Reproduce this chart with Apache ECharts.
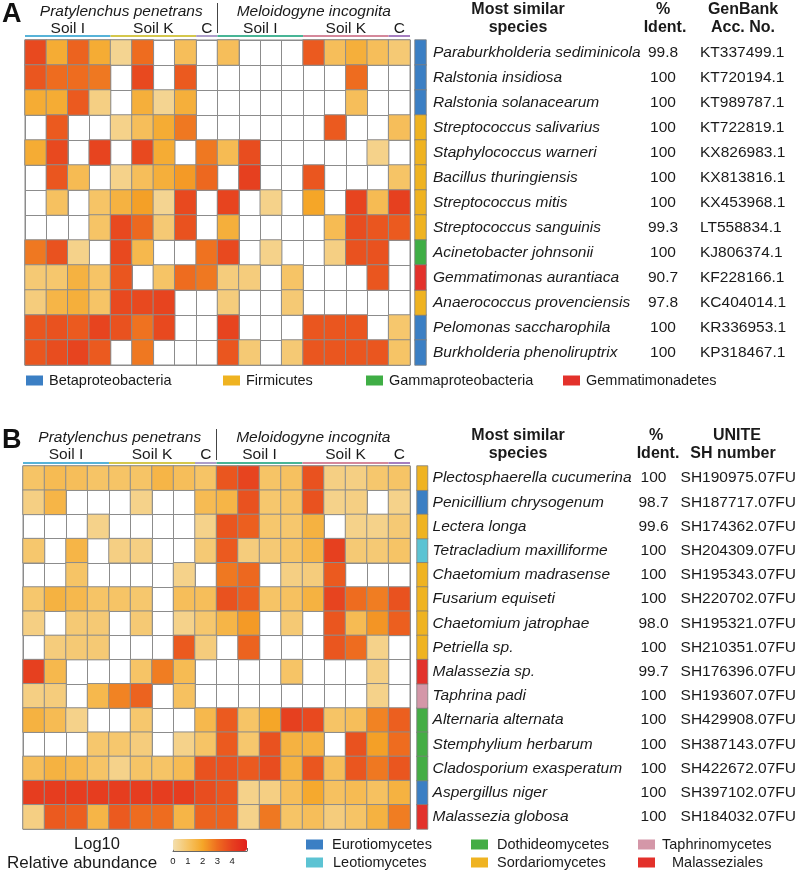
<!DOCTYPE html>
<html><head><meta charset="utf-8">
<script src="https://cdn.jsdelivr.net/npm/echarts@6/dist/echarts.min.js"></script>
<style>html,body{margin:0;padding:0;background:#fff}#c{width:799px;height:873px}</style>
</head><body><div id="c"></div>
<script>
// ---------------- DATA ----------------
const columns = ['Pp-SoilI-1','Pp-SoilI-2','Pp-SoilI-3','Pp-SoilI-4','Pp-SoilK-1','Pp-SoilK-2','Pp-SoilK-3','Pp-SoilK-4','Pp-C',
                 'Mi-SoilI-1','Mi-SoilI-2','Mi-SoilI-3','Mi-SoilI-4','Mi-SoilK-1','Mi-SoilK-2','Mi-SoilK-3','Mi-SoilK-4','Mi-C'];
const groupLabels = ['Soil I','Soil K','C','Soil I','Soil K','C'];
const groupSizes = [4,4,1,4,4,1];
const nematodes = ['Pratylenchus penetrans','Meloidogyne incognita'];

const speciesA = ['Paraburkholderia sediminicola','Ralstonia insidiosa','Ralstonia solanacearum','Streptococcus salivarius',
  'Staphylococcus warneri','Bacillus thuringiensis','Streptococcus mitis','Streptococcus sanguinis','Acinetobacter johnsonii',
  'Gemmatimonas aurantiaca','Anaerococcus provenciensis','Pelomonas saccharophila','Burkholderia phenoliruptrix'];
const identA = ['99.8','100','100','100','100','100','100','99.3','100','90.7','97.8','100','100'];
const accA = ['KT337499.1','KT720194.1','KT989787.1','KT722819.1','KX826983.1','KX813816.1','KX453968.1','LT558834.1',
  'KJ806374.1','KF228166.1','KC404014.1','KR336953.1','KP318467.1'];
const classA = ['Betaproteobacteria','Betaproteobacteria','Betaproteobacteria','Firmicutes','Firmicutes','Firmicutes','Firmicutes',
  'Firmicutes','Gammaproteobacteria','Gemmatimonadetes','Firmicutes','Betaproteobacteria','Betaproteobacteria'];
const abundanceA = [
  [3.8,1.8,3.2,1.8,0.4,3.0,null,1.2,null,1.2,null,null,null,3.4,1.2,1.7,1.2,0.8],
  [3.5,3.0,3.0,2.8,null,3.8,null,3.4,null,null,null,null,null,null,null,3.0,null,null],
  [1.8,1.8,3.4,0.6,null,1.7,0.4,1.7,null,null,null,null,null,null,null,1.2,null,null],
  [null,3.4,null,null,0.5,1.2,1.8,2.8,null,null,null,null,null,null,3.4,null,null,1.2],
  [1.8,3.8,null,3.9,null,3.8,1.8,null,2.8,1.3,3.7,null,null,null,null,null,0.5,null],
  [null,3.5,1.3,null,0.5,1.2,1.7,2.2,3.1,null,4.0,null,null,3.5,null,null,null,1.0],
  [null,1.1,null,1.0,1.6,2.1,0.4,3.8,null,3.9,null,0.5,null,2.0,null,3.9,1.3,4.0],
  [null,null,null,1.0,3.8,3.1,0.8,3.6,null,1.7,null,null,null,null,1.3,3.7,3.5,3.4],
  [2.8,3.6,0.5,null,3.8,1.4,null,null,2.9,3.8,null,0.5,null,null,0.6,3.6,3.6,null],
  [0.8,0.9,1.6,1.0,3.5,null,1.0,3.0,2.8,0.7,0.7,null,1.0,null,null,null,3.5,null],
  [0.7,1.5,1.7,1.0,3.8,3.8,3.9,null,null,0.7,null,null,0.8,null,null,null,null,null],
  [3.5,3.6,3.4,3.9,3.6,2.9,3.8,null,null,3.9,null,null,null,3.5,3.5,3.5,null,0.9],
  [3.5,3.7,3.9,3.4,null,2.8,null,null,null,3.5,0.8,null,0.8,3.5,3.5,3.5,3.5,1.0]
];

const speciesB = ['Plectosphaerella cucumerina','Penicillium chrysogenum','Lectera longa','Tetracladium maxilliforme',
  'Chaetomium madrasense','Fusarium equiseti','Chaetomium jatrophae','Petriella sp.','Malassezia sp.','Taphrina padi',
  'Alternaria alternata','Stemphylium herbarum','Cladosporium exasperatum','Aspergillus niger','Malassezia globosa'];
const identB = ['100','98.7','99.6','100','100','100','98.0','100','99.7','100','100','100','100','100','100'];
const shB = ['SH190975.07FU','SH187717.07FU','SH174362.07FU','SH204309.07FU','SH195343.07FU','SH220702.07FU','SH195321.07FU',
  'SH210351.07FU','SH176396.07FU','SH193607.07FU','SH429908.07FU','SH387143.07FU','SH422672.07FU','SH397102.07FU','SH184032.07FU'];
const classB = ['Sordariomycetes','Eurotiomycetes','Sordariomycetes','Leotiomycetes','Sordariomycetes','Sordariomycetes',
  'Sordariomycetes','Sordariomycetes','Malasseziales','Taphrinomycetes','Dothideomycetes','Dothideomycetes','Dothideomycetes',
  'Eurotiomycetes','Malasseziales'];
const abundanceB = [
  [1.0,1.3,1.2,1.0,1.0,1.0,1.5,1.2,1.0,3.5,3.9,1.0,1.1,3.6,0.6,0.6,0.9,1.0],
  [0.6,1.5,null,null,null,0.5,null,null,1.3,1.5,3.6,0.9,1.0,3.6,0.5,0.6,null,0.5],
  [null,null,null,0.5,null,null,null,null,0.5,3.5,3.3,0.9,0.9,1.6,null,0.5,0.5,0.8],
  [0.9,null,1.5,null,0.6,0.6,null,null,0.8,3.4,0.7,0.8,1.0,1.5,4.0,0.8,0.8,1.0],
  [null,null,1.0,null,null,null,null,0.5,null,2.8,3.1,null,0.6,0.7,3.4,null,null,null],
  [0.9,1.6,1.4,1.0,1.0,0.9,null,1.2,1.2,3.6,3.3,1.0,1.1,1.6,3.9,3.0,2.7,3.6],
  [0.6,null,0.8,0.8,null,0.8,null,0.5,0.9,1.5,2.2,null,0.8,null,3.5,1.3,2.3,3.3],
  [null,0.7,0.8,0.8,null,null,null,3.4,0.7,null,3.2,null,null,null,3.5,3.0,0.5,null],
  [4.0,1.4,null,null,null,1.0,2.7,1.3,null,null,null,null,1.0,null,null,null,0.6,null],
  [0.6,0.7,null,1.4,2.6,3.2,null,1.1,null,null,null,null,null,null,null,null,0.5,null],
  [1.6,1.3,0.5,null,null,0.9,null,null,1.4,3.4,1.0,2.0,4.0,3.8,1.0,1.2,2.6,3.3],
  [null,null,null,0.9,0.9,0.7,null,0.5,1.0,3.4,0.9,3.6,1.6,1.6,null,3.6,2.1,3.0],
  [1.2,1.6,1.4,1.0,0.5,1.0,1.0,1.3,3.6,3.6,3.4,3.7,1.6,3.5,1.2,3.5,2.8,3.5],
  [4.1,4.1,4.1,4.1,4.1,4.1,4.1,4.1,3.7,3.5,0.5,0.6,1.2,1.9,1.1,1.3,1.1,1.6],
  [0.6,3.4,3.3,1.5,3.4,3.0,3.0,1.5,3.2,3.2,0.5,2.8,1.0,1.2,0.7,1.0,1.6,2.7]
];
const colorbarTicks = [0,1,2,3,4];

// ---------------- STYLE ----------------
const FONT = '"Liberation Sans", Arial, Helvetica, sans-serif';
const TXT = '#1a1a1a';
const GRID_LINE = '#8c8c8c';
const heatColors = ['#f3dfae','#f6c466','#f5a628','#ee6c1f','#e6401f','#e1201d'];
const classColorsA = {Betaproteobacteria:'#3b7fc4', Firmicutes:'#efb321', Gammaproteobacteria:'#3fae45', Gemmatimonadetes:'#e3312b'};
const classColorsB = {Eurotiomycetes:'#3b7fc4', Leotiomycetes:'#5cc3d3', Dothideomycetes:'#44ad45', Sordariomycetes:'#efb321',
  Taphrinomycetes:'#d497a8', Malasseziales:'#e3312b'};
const groupColors = ['#57b3d8','#d4c74c','#ad9fca','#48b596','#d5889b','#a67ec0'];

const LA = {left:25, top:40, width:385, height:325, stripLeft:415, stripW:11, identX:663, accX:700, spX:433,
            line:36, row1:12, row2:29, hdr1:10, hdr2:28, letterTop:1};
const LB = {left:23, top:466, width:387, height:363, stripLeft:417, stripW:13, identX:656, accX:683, spX:435,
            line:463, row1:438, row2:455, hdr1:436, hdr2:454, letterTop:427};

function heatData(mat){
  const out=[];
  mat.forEach((row,r)=>row.forEach((v,c)=>{ if(v!==null) out.push([c,r,v]); }));
  return out;
}

const grids=[], xAxes=[], yAxes=[], series=[], graphics=[], legends=[];

function addPanel(L, species, ident, acc, classes, mat, classColors, accHdr1, accHdr2, letter){
  const g = grids.length;
  grids.push({left:L.left, top:L.top, width:L.width, height:L.height, show:true, borderColor:GRID_LINE, borderWidth:1, backgroundColor:'#fff'});
  grids.push({left:L.stripLeft, top:L.top, width:L.stripW, height:L.height});
  const xi = xAxes.length;
  xAxes.push({type:'category', gridIndex:g, data:columns, axisLine:{show:false}, axisTick:{show:false, interval:0}, axisLabel:{show:false, interval:0},
              splitLine:{show:true, interval:0, lineStyle:{color:GRID_LINE, width:1}}});
  xAxes.push({type:'category', gridIndex:g+1, data:['class'], show:false});
  const yi = yAxes.length;
  yAxes.push({type:'category', gridIndex:g, data:species, inverse:true, axisLine:{show:false}, axisTick:{show:false, interval:0},
              axisLabel:{show:false, interval:0}, splitLine:{show:true, interval:0, lineStyle:{color:GRID_LINE, width:1}}});
  const lab = {fontFamily:FONT, fontSize:15.5, color:TXT, interval:0};
  yAxes.push({type:'category', gridIndex:g+1, data:species, inverse:true, position:'right', axisLine:{show:false}, axisTick:{show:false},
              axisLabel:Object.assign({}, lab, {fontStyle:'italic', align:'left', margin:L.spX-(L.stripLeft+L.stripW)})});
  yAxes.push({type:'category', gridIndex:g+1, data:ident, inverse:true, position:'right', offset:L.identX-(L.stripLeft+L.stripW),
              axisLine:{show:false}, axisTick:{show:false}, axisLabel:Object.assign({}, lab, {align:'center', margin:0})});
  yAxes.push({type:'category', gridIndex:g+1, data:acc, inverse:true, position:'right', offset:L.accX-(L.stripLeft+L.stripW),
              axisLine:{show:false}, axisTick:{show:false}, axisLabel:Object.assign({}, lab, {align:'left', margin:0})});
  series.push({type:'heatmap', name:'abundance'+letter, xAxisIndex:xi, yAxisIndex:yi, data:heatData(mat),
               itemStyle:{borderColor:GRID_LINE, borderWidth:1}, emphasis:{disabled:true}, silent:true});
  Object.keys(classColors).forEach(cls=>{
    const d=[]; classes.forEach((c,i)=>{ if(c===cls) d.push([0,i,1]); });
    series.push({type:'heatmap', name:cls, xAxisIndex:xi+1, yAxisIndex:yi+1, data:d,
                 itemStyle:{color:classColors[cls], borderColor:'#7d7d7d', borderWidth:0.8}, emphasis:{disabled:true}, silent:true});
  });
  const cw = L.width/columns.length;
  graphics.push({type:'text', left:2, top:L.letterTop, style:{text:letter, font:'bold 27px '+FONT, fill:'#111'}});
  const half = cw*9;
  graphics.push({type:'text', style:{x:L.left+half/2, y:L.row1, text:nematodes[0], align:'center', verticalAlign:'middle', font:'italic 15.5px '+FONT, fill:TXT}});
  graphics.push({type:'text', style:{x:L.left+half*1.5, y:L.row1, text:nematodes[1], align:'center', verticalAlign:'middle', font:'italic 15.5px '+FONT, fill:TXT}});
  graphics.push({type:'line', shape:{x1:L.left+half, y1:L.row1-9, x2:L.left+half, y2:L.line-3}, style:{stroke:'#444', lineWidth:1}});
  let start=0;
  groupSizes.forEach((n,k)=>{
    const x1=L.left+start*cw, x2=L.left+(start+n)*cw;
    graphics.push({type:'text', style:{x:(x1+x2)/2, y:L.row2, text:groupLabels[k], align:'center', verticalAlign:'middle', font:'15.5px '+FONT, fill:TXT}});
    graphics.push({type:'line', shape:{x1:x1, y1:L.line, x2:x2, y2:L.line}, style:{stroke:groupColors[k], lineWidth:2}});
    start+=n;
  });
  const hb = 'bold 16px '+FONT;
  const spCenter = 518;
  graphics.push({type:'text', style:{x:spCenter, y:L.hdr1, text:'Most similar', align:'center', verticalAlign:'middle', font:hb, fill:TXT}});
  graphics.push({type:'text', style:{x:spCenter, y:L.hdr2, text:'species', align:'center', verticalAlign:'middle', font:hb, fill:TXT}});
  graphics.push({type:'text', style:{x:L.identX, y:L.hdr1, text:'%', align:'center', verticalAlign:'middle', font:hb, fill:TXT}});
  graphics.push({type:'text', style:{x:L.identX+2, y:L.hdr2, text:'Ident.', align:'center', verticalAlign:'middle', font:hb, fill:TXT}});
  graphics.push({type:'text', style:{x:accHdr1[1], y:L.hdr1, text:accHdr1[0], align:'center', verticalAlign:'middle', font:hb, fill:TXT}});
  graphics.push({type:'text', style:{x:accHdr2[1], y:L.hdr2, text:accHdr2[0], align:'center', verticalAlign:'middle', font:hb, fill:TXT}});
}

addPanel(LA, speciesA, identA, accA, classA, abundanceA, classColorsA, ['GenBank',743], ['Acc. No.',743], 'A');
addPanel(LB, speciesB, identB, shB, classB, abundanceB, classColorsB, ['UNITE',737], ['SH number',733], 'B');

// colorbar tick axis
const gc = grids.length;
grids.push({left:173, top:850, width:74, height:1});
xAxes.push({type:'value', gridIndex:gc, min:0, max:5, interval:1, position:'bottom',
  axisLine:{show:true, lineStyle:{color:'#666', width:1}}, axisTick:{show:true, inside:true, length:3, lineStyle:{color:'#666'}},
  splitLine:{show:false},
  axisLabel:{fontFamily:FONT, fontSize:9.5, color:TXT, margin:5, formatter:v=>colorbarTicks.indexOf(v)>=0?String(v):''}});
yAxes.push({type:'value', gridIndex:gc, show:false});

graphics.push({type:'text', style:{x:97, y:844, text:'Log10', align:'center', verticalAlign:'middle', font:'16.5px '+FONT, fill:TXT}});
graphics.push({type:'text', style:{x:7, y:863, text:'Relative abundance', align:'left', verticalAlign:'middle', font:'17px '+FONT, fill:TXT}});

function addLegend(name, left, cy, padLeft){
  legends.push({data:[name], left:left, top:cy-8, orient:'horizontal', icon:'rect', itemWidth:17, itemHeight:10, padding:0,
    selectedMode:false, itemStyle:{borderWidth:0},
    textStyle:{fontFamily:FONT, fontSize:14.5, color:TXT, padding:[0,0,0,padLeft||0]}});
}
addLegend('Betaproteobacteria', 26, 381, 1);
addLegend('Firmicutes', 223, 381, 1);
addLegend('Gammaproteobacteria', 366, 381, 1);
addLegend('Gemmatimonadetes', 563, 381, 1);
addLegend('Eurotiomycetes', 306, 845, 4);
addLegend('Leotiomycetes', 306, 863, 5);
addLegend('Dothideomycetes', 471, 845, 4);
addLegend('Sordariomycetes', 471, 863, 4);
addLegend('Taphrinomycetes', 638, 845, 2);
addLegend('Malasseziales', 638, 863, 12);

const chart = echarts.init(document.getElementById('c'), null, {renderer:'canvas'});
chart.setOption({
  backgroundColor:'#fff',
  animation:false,
  grid:grids, xAxis:xAxes, yAxis:yAxes, series:series, legend:legends,
  visualMap:{type:'continuous', seriesIndex:[0,5], min:0, max:5, orient:'horizontal', left:173, top:839, itemWidth:12, itemHeight:74,
             padding:0, calculable:false, realtime:false, text:null, showLabel:false, inRange:{color:heatColors}, hoverLink:false},
  graphic:graphics
});
</script></body></html>
